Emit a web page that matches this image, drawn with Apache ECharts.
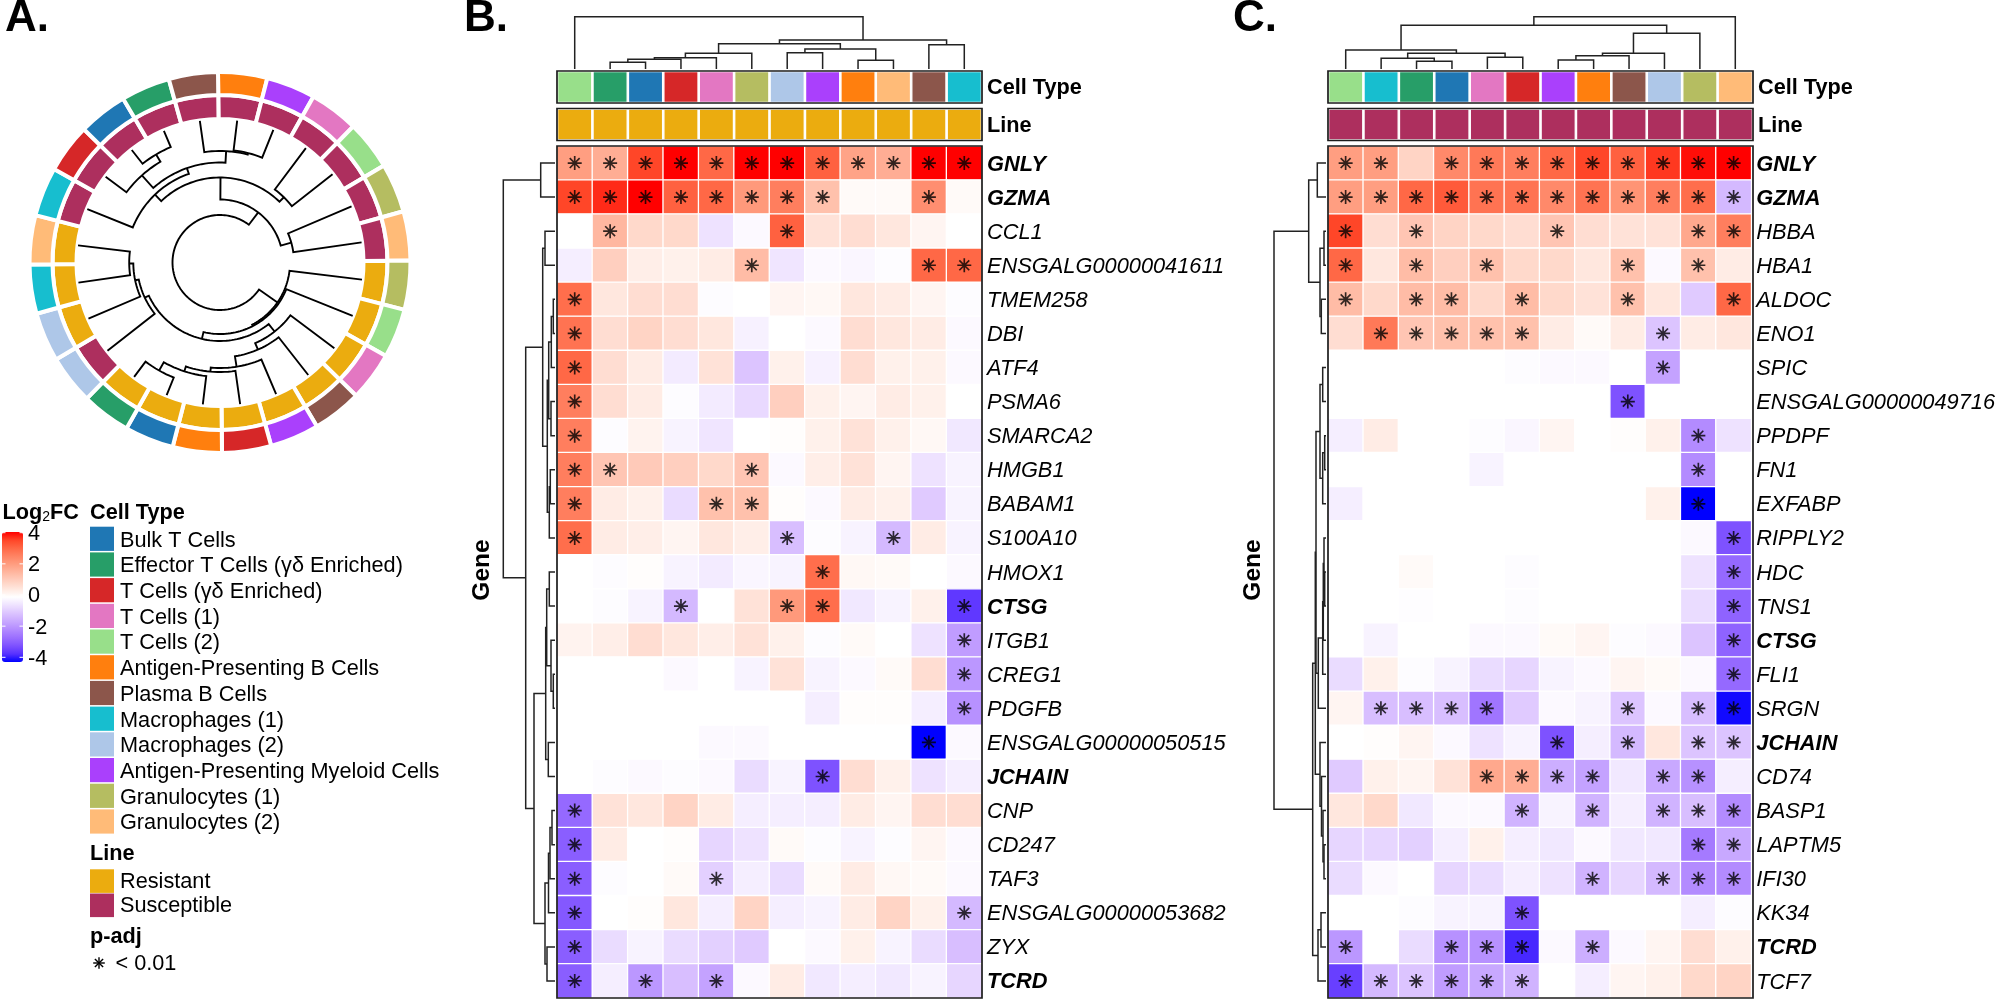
<!DOCTYPE html>
<html><head><meta charset="utf-8">
<style>html,body{margin:0;padding:0;background:#fff}#c{width:1998px;height:999px}</style>
<script src="https://cdn.jsdelivr.net/npm/echarts@6/dist/echarts.min.js"></script>
</head><body><div id="c"></div>
<script>
// ---------- categories ----------
const cellTypeNames = ['Bulk T Cells','Effector T Cells (γδ Enriched)','T Cells (γδ Enriched)','T Cells (1)','T Cells (2)','Antigen-Presenting B Cells','Plasma B Cells','Macrophages (1)','Macrophages (2)','Antigen-Presenting Myeloid Cells','Granulocytes (1)','Granulocytes (2)'];
const cellTypeColors = ['#1f77b4','#279e68','#d62728','#e377c2','#98df8a','#ff7f0e','#8c564b','#17becf','#aec7e8','#aa40fc','#b5bd61','#ffbb78'];
const lineNames = ['Resistant','Susceptible'];
const lineColors = ['#ebac0f','#ad2f5e'];
const colorbarTicks = [4,2,0,-2,-4];

// ring order, clockwise from 12 o'clock (index into cellTypeNames, line index)
const ringCell = [5,9,3,4,10,11, 10,4,3,6,9,2, 5,0,1,8,8,7, 11,7,2,0,1,6];
const ringLine = [1,1,1,1,1,1, 0,0,0,0,0,0, 0,0,0,1,0,0, 0,1,1,1,1,1];
// circular dendrogram merges: [a, b, radius]; number = leaf position, 'mN' = earlier merge
const ringTree = [[28,29,74],[24,25,113],[23,'m1',111.5],[21,22,125.5],[20,'m3',117],['m4','m2',100],[19,'m5',94],[26,27,91.3],['m6','m7',85],['m8','m0',63],
 [13,14,124],[12,'m10',114.5],[11,'m11',109.5],[10,'m12',105.5],[9,'m13',95],[8,'m14',88],[17,18,90.8],[16,'m16',86.7],[15,'m17',83],['m15','m18',78.5],[7,'m19',71.5],[6,'m20',70],['m21','m9',47.5]];

// ---------- panel B ----------
const genesB = ['GNLY','GZMA','CCL1','ENSGALG00000041611','TMEM258','DBI','ATF4','PSMA6','SMARCA2','HMGB1','BABAM1','S100A10','HMOX1','CTSG','ITGB1','CREG1','PDGFB','ENSGALG00000050515','JCHAIN','CNP','CD247','TAF3','ENSGALG00000053682','ZYX','TCRD'];
const boldGenes = ['GNLY','GZMA','CTSG','JCHAIN','TCRD'];
const colsB = [4,1,0,2,3,10,8,9,5,11,6,7];
const valuesB = [
[2,1.7,3.5,4,3,4,4,3.1,1.9,1.7,4,4],
[3.5,3.7,4,3.1,3,2.1,2.6,1.3,.1,.1,2.3,.1],
[0,1.5,.8,.8,-.5,-.1,3.1,.6,.7,.5,.2,0],
[-.3,1,.35,.3,.4,1.4,-.45,-.1,-.15,-.05,3,3],
[2.9,.5,.7,.7,-.05,0,.2,.15,.5,.4,.2,-.05],
[2.8,.7,.9,.7,.5,-.25,0,-.1,.7,.5,.4,-.1],
[3,.7,.4,-.35,.6,-1,.3,-.25,.7,.3,.3,-.1],
[2.6,.7,.4,-.05,-.35,-.65,1,.3,.2,.4,.3,0],
[2.6,-.05,.25,-.2,-.45,0,.05,.3,.6,.3,.15,-.4],
[2.6,1.2,1.1,1,.8,1.2,-.1,.35,.6,.2,-.5,-.2],
[2.6,.4,.3,-.6,1.3,1.3,.05,-.1,.4,.3,-.9,-.2],
[2.9,.4,.35,.2,.5,.35,-1.1,-.05,-.2,-1.2,.4,-.2],
[0,-.05,.05,-.2,-.35,-.15,-.2,2.9,.15,.1,0,-.1],
[0,-.05,-.2,-1.2,0,.6,2.1,2.9,-.4,-.2,.3,-3.4],
[.25,.35,.7,.5,.35,.6,.3,-.05,.1,0,-.5,-1.7],
[0,0,0,-.1,0,-.2,.6,-.2,-.1,.1,.7,-1.8],
[0,0,0,0,0,0,0,-.3,.05,.05,-.3,-1.9],
[0,0,0,0,-.1,-.1,0,0,0,0,-4,-.1],
[0,-.05,-.1,-.05,-.1,-.6,-.2,-3,.7,.3,-.5,-.3],
[-2.6,.6,.5,.9,.4,-.3,-.3,-.3,.4,.2,.7,.7],
[-2.8,.4,0,.05,-.7,-.5,.1,-.05,-.2,-.05,.2,-.1],
[-2.8,-.05,0,.1,-.8,-.3,-.6,.1,.4,.15,.1,-.1],
[-2.9,0,.05,.5,-.3,.9,-.3,-.2,.4,.9,.3,-1.2],
[-2.8,-.6,-.2,-.6,-.8,-.9,0,-.1,.3,-.2,-.6,-1.1],
[-2.8,-.3,-1.8,-1.1,-1.6,-.1,.4,-.4,-.3,-.4,-.2,-.7]];
const starsB = [[0,1,2,3,4,5,6,7,8,9,10,11],[0,1,2,3,4,5,6,7,10],[1,6],[5,10,11],[0],[0],[0],[0],[0],[0,1,5],[0,4,5],[0,6,9],[7],[3,6,7,11],[11],[11],[11],[10],[7],[0],[0],[0,4],[0,11],[0],[0,2,4]];
const colTreeB = [[1,2,6.7],['m0',3,9.7],['m1',4,11.3],['m2',5,15.7],[6,7,16.3],[8,9,8.7],['m4','m5',20],['m3','m6',25.3],[10,11,24.3],['m7','m8',29],[0,'m9',52.3]];
const rowTreeB = [[0,1,14.3],[2,3,10],[4,5,1.7],['m2',6,3.7],[7,8,4],['m3','m4',6.3],[9,10,4.7],['m6',11,5.7],['m5','m7',7.7],['m1','m8',12.3],
 [12,13,5.7],[15,16,1.7],[14,'m11',4],['m10','m12',8.3],[17,18,6.7],['m13','m14',9.3],[19,20,3],['m16',21,5],['m17',22,6.5],[23,24,8],['m18','m19',10],['m15','m20',21],['m9','m21',29.3],['m0','m22',51.7]];

// ---------- panel C ----------
const genesC = ['GNLY','GZMA','HBBA','HBA1','ALDOC','ENO1','SPIC','ENSGALG00000049716','PPDPF','FN1','EXFABP','RIPPLY2','HDC','TNS1','CTSG','FLI1','SRGN','JCHAIN','CD74','BASP1','LAPTM5','IFI30','KK34','TCRD','TCF7'];
const colsC = [4,7,1,0,3,2,9,5,6,8,10,11];
const valuesC = [
[2,2,.9,2.4,2.7,2.6,3,3.5,3.1,3.6,3.9,4],
[2,2,3,3.2,2.8,2.8,2.4,2.8,2.2,2.6,2.9,-1.2],
[3.5,.7,1.2,.9,.8,.7,1.2,.7,.6,.6,1.8,2.6],
[3,.5,1.4,1,1.3,.8,.8,.5,1.3,-.1,1.3,.4],
[1.4,.8,1.4,1.4,.8,1.4,.8,.6,1.3,.5,-.9,3],
[.7,2.7,1.2,1.3,1.3,1.3,.4,.1,.4,-1,.4,.5],
[0,0,0,0,0,-.05,-.1,-.1,0,-1.6,0,0],
[0,0,0,0,0,0,0,0,-3,0,0,0],
[-.3,.4,0,0,-.05,-.15,.2,0,.05,.3,-2,-.5],
[0,0,0,0,-.2,0,0,0,0,0,-2,0],
[-.3,0,0,0,0,0,0,0,0,.3,-4,0],
[0,0,0,0,0,0,0,0,0,0,-.1,-3],
[0,0,.1,0,0,-.05,0,0,0,0,-.5,-2.6],
[0,0,-.03,0,0,-.05,0,0,0,0,-.6,-2.7],
[0,-.2,0,0,-.1,-.1,.1,.2,-.05,-.1,-1,-2.7],
[-.6,.3,-.05,-.2,-.6,-.7,-.2,-.1,.2,.1,-.1,-2.6],
[.2,-1.1,-1.1,-1.1,-2.4,-.9,-.1,-.2,-1,-.1,-1.1,-3.9],
[0,.05,.2,-.1,-.5,-.2,-3,-.3,-1.2,.5,-1,-1],
[-.9,.3,.2,.6,1.8,1.7,-1.4,-1.6,-.4,-1.5,-1.9,-.3],
[.5,.8,-.4,-.1,-.1,-1.3,-.2,-1.3,-.3,-1.3,-1.1,-2],
[-.7,-.7,-.8,-.3,.3,-.3,-.4,-.1,-.4,-.4,-2.3,-1.5],
[-.6,-.1,0,-.7,-.6,-.3,-.5,-1.3,-.7,-1.2,-2,-2],
[0,0,-.05,-.2,-.2,-3,0,0,0,0,-.3,-.05],
[-1.8,0,-.6,-1.9,-1.9,-3.6,-.1,-1.4,-.1,.2,.7,.3],
[-3.3,-1.2,-1,-1.7,-1.5,-1.3,0,-.3,.2,.3,.8,.9]];
const starsC = [[0,1,3,4,5,6,7,8,9,10,11],[0,1,2,3,4,5,6,7,8,9,10,11],[0,2,6,10,11],[0,2,4,8,10],[0,2,3,5,8,11],[1,2,3,4,5,9],[9],[8],[10],[10],[10],[11],[11],[11],[11],[11],[1,2,3,4,8,10,11],[6,8,10,11],[4,5,6,7,9,10],[5,7,9,10,11],[10,11],[7,9,10,11],[5],[0,3,4,5,7],[0,1,2,3,4,5]];
const colTreeC = [[2,3,7.7],[1,'m0',10.7],[4,5,11.7],['m1','m2',15.7],[0,'m3',19],[6,7,9],['m5',8,13.3],['m6',9,15.7],['m7',10,35.7],['m4','m8',43.7],['m9',11,52.3]];
const rowTreeC = [[0,1,8.7],[2,3,2],[4,5,4.7],['m1','m2',6],['m0','m3',17.3],[6,7,3.3],[8,9,1.3],['m6',10,3.3],['m5','m7',6],
 [12,13,1.3],[11,'m9',2],['m10',14,2.7],['m11',15,3.3],['m12',16,7.7],['m8','m13',10],[20,21,2],[19,'m15',3],[18,'m16',4.5],[17,'m17',6],['m14','m18',10.7],[22,23,5],['m20',24,8],['m19','m21',13.3],['m4','m22',52]];

// ---------- helpers ----------
const FONT = 'Liberation Sans';
function links(tree, leafPos, leafH){
  const nodes = [];
  const pos = c => typeof c === 'string' ? nodes[+c.slice(1)].p : leafPos(c);
  const hgt = c => typeof c === 'string' ? nodes[+c.slice(1)].h : leafH;
  return tree.map(([a,b,h]) => {
    const row = [pos(a), pos(b), h, hgt(a), hgt(b)];
    nodes.push({p:(row[0]+row[1])/2, h});
    return row;
  });
}
// CIELAB blue-white-red ramp
function toLab(c){
  const f = v => { v/=255; return v>0.04045?Math.pow((v+0.055)/1.055,2.4):v/12.92; };
  const [r,g,b] = c.map(f);
  const X=(0.4124564*r+0.3575761*g+0.1804375*b)/0.95047, Y=0.2126729*r+0.7151522*g+0.072175*b, Z=(0.0193339*r+0.119192*g+0.9503041*b)/1.08883;
  const t = v => v>0.008856?Math.cbrt(v):7.787*v+16/116;
  return [116*t(Y)-16, 500*(t(X)-t(Y)), 200*(t(Y)-t(Z))];
}
function fromLab([L,a,b]){
  const fy=(L+16)/116, fx=a/500+fy, fz=fy-b/200;
  const t = v => v*v*v>0.008856?v*v*v:(v-16/116)/7.787;
  const X=t(fx)*0.95047, Y=t(fy), Z=t(fz)*1.08883;
  const r=3.2404542*X-1.5371385*Y-0.4985314*Z, g=-0.969266*X+1.8760108*Y+0.041556*Z, bb=0.0556434*X-0.2040259*Y+1.0572252*Z;
  const f = v => { v=Math.max(0,Math.min(1,v)); return Math.round(255*(v>0.0031308?1.055*Math.pow(v,1/2.4)-0.055:12.92*v)); };
  return 'rgb('+f(r)+','+f(g)+','+f(bb)+')';
}
const ramp = [];
(function(){
  const B=toLab([0,0,255]),W=toLab([255,255,255]),R=toLab([255,0,0]);
  const mix=(p,q,t)=>p.map((v,i)=>v+(q[i]-v)*t);
  for(let i=0;i<=16;i++){ const v=i/8-1; ramp.push(fromLab(v<0?mix(W,B,-v):mix(W,R,v))); }
})();
const ARMS = (function(){
  let d='';
  const w=12,L=100;
  [0,45,90,135].forEach(deg=>{
    const c=Math.cos(deg*Math.PI/180),s=Math.sin(deg*Math.PI/180);
    const P=(u,v)=>(u*c-v*s+100).toFixed(1)+' '+(u*s+v*c+100).toFixed(1);
    d+='M'+P(-L,-w)+'L'+P(L,-w)+'L'+P(L,w)+'L'+P(-L,w)+'Z';
  });
  d+='M62 100L100 62L138 100L100 138Z';
  return 'path://'+d;
})();

const series=[], grid=[], xAxis=[], yAxis=[], graphic=[], heatIdx=[];
const LINE='#222';
function addGrid(g,x,y){ grid.push(g); x.gridIndex=grid.length-1; y.gridIndex=grid.length-1; xAxis.push(x); yAxis.push(y); return grid.length-1; }
function hiddenVal(min,max,inv){ return {type:'value',min,max,inverse:!!inv,show:false,splitLine:{show:false}}; }
function txt(s,x,y,o){ o=o||{}; graphic.push({type:'text',x,y,rotation:o.rot||0,z:50,silent:true,style:Object.assign({text:s,fontFamily:FONT,fontSize:o.size||21.7,fontWeight:o.w||'normal',fill:'#000',align:o.align||'left',verticalAlign:'middle'},o.extra||{})}); }
function rect(x,y,w,h,fill,stroke,lw,z){ graphic.push({type:'rect',silent:true,z:z||40,shape:{x,y,width:w,height:h},style:{fill:fill||'none',stroke:stroke||'none',lineWidth:lw||0}}); }
function seg(x1,y1,x2,y2,color,lw,z){ graphic.push({type:'line',silent:true,z:z||60,shape:{x1,y1,x2,y2},style:{stroke:color,lineWidth:lw}}); }

function dendro(gi,rows,horizontal){
  series.push({type:'custom',xAxisIndex:gi,yAxisIndex:gi,coordinateSystem:'cartesian2d',silent:true,clip:false,animation:false,
    encode:horizontal?{x:[2,3,4],y:[0,1]}:{x:[0,1],y:[2,3,4]},data:rows,
    renderItem:(p,api)=>{
      const a=api.value(0),b=api.value(1),h=api.value(2),ha=api.value(3),hb=api.value(4);
      const C=(q,v)=>horizontal?api.coord([v,q]):api.coord([q,v]);
      return {type:'polyline',shape:{points:[C(a,ha),C(a,h),C(b,h),C(b,hb)]},style:{stroke:LINE,lineWidth:1.5,fill:null}};
    }});
}
function strip(top,colors){
  const gi=addGrid({left:LEFT,top,width:W,height:32},{type:'category',data:colors.map((_, i)=>i),show:false},hiddenVal(0,1));
  series.push({type:'bar',xAxisIndex:gi,yAxisIndex:gi,barWidth:'100%',silent:true,animation:false,
    itemStyle:{borderColor:'#fff',borderWidth:1.3},
    data:colors.map(c=>({value:1,itemStyle:{color:c}}))});
  rect(LEFT,top,W,32,null,'#1c1c1c',1.7);
}
let LEFT=557, W=425;
function panel(left,genes,cols,vals,stars,colTree,rowTree,lineIdx,geneX){
  LEFT=left;
  const top=146,H=852;
  const gt=addGrid({left,top:0,width:W,height:69},hiddenVal(0,12),hiddenVal(0,69));
  dendro(gt,links(colTree,i=>i+.5,0),false);
  strip(71,cols.map(i=>cellTypeColors[i]));
  strip(108.5,cols.map(()=>lineColors[lineIdx]));
  txt('Cell Type',left+W+5,88.5,{w:'bold'});
  txt('Line',left+W+5,126,{w:'bold'});
  const gr=addGrid({left:left-2-60,top,width:60,height:H},hiddenVal(0,60,true),hiddenVal(0,25,true));
  dendro(gr,links(rowTree,i=>i+.5,0),true);
  const gh=addGrid({left,top,width:W,height:H},
    {type:'category',data:cols.map(i=>cellTypeNames[i]),show:false},
    {type:'category',data:genes,inverse:true,position:'right',axisLine:{show:false},axisTick:{show:false},splitLine:{show:false},
     axisLabel:{show:true,interval:0,margin:5,padding:[3,0,0,0],fontFamily:FONT,fontSize:21.8,color:'#000',
       formatter:v=>boldGenes.includes(v)?'{b|'+v+'}':'{i|'+v+'}',
       rich:{b:{fontFamily:FONT,fontSize:21.8,fontWeight:'bold',fontStyle:'italic',color:'#000'},i:{fontFamily:FONT,fontSize:21.8,fontStyle:'italic',color:'#000'}}}});
  const cells=[]; vals.forEach((r,y)=>r.forEach((v,x)=>cells.push([x,y,v])));
  heatIdx.push(series.length);
  series.push({type:'heatmap',xAxisIndex:gh,yAxisIndex:gh,data:cells,silent:true,animation:false,progressive:0,emphasis:{disabled:true},
    itemStyle:{borderColor:'#fff',borderWidth:1.3}});
  const pts=[]; stars.forEach((r,y)=>r.forEach(x=>pts.push([x,y])));
  series.push({type:'scatter',xAxisIndex:gh,yAxisIndex:gh,data:pts,symbol:ARMS,symbolSize:14,silent:true,animation:false,z:5,itemStyle:{color:'#000'}});
  rect(left,top,W,H,null,'#1c1c1c',1.7);
  txt('Gene',geneX,570,{w:'bold',size:24.5,align:'center',rot:Math.PI/2});
}
panel(557,genesB,colsB,valuesB,starsB,colTreeB,rowTreeB,0,482.5);
panel(1328,genesC,colsC,valuesC,starsC,colTreeC,rowTreeC,1,1253);

// ---------- panel A: rings and circular dendrogram ----------
const RING_C=[220,262.5], RING_R=190.5;
const polar=[{center:RING_C,radius:RING_R},{center:RING_C,radius:RING_R}];
const angleAxis=[
 {polarIndex:0,type:'category',data:ringCell.map((_,i)=>i),startAngle:90.6,clockwise:true,show:false},
 {polarIndex:1,type:'value',min:0,max:360,startAngle:90.6,clockwise:true,show:false}];
const radiusAxis=[{polarIndex:0,type:'value',min:0,max:RING_R,show:false},{polarIndex:1,type:'value',min:0,max:RING_R,show:false}];
const ringStyle={borderColor:'#fff',borderWidth:4};
series.push({type:'bar',coordinateSystem:'polar',polarIndex:0,stack:'ring',barWidth:'100%',silent:true,animation:false,itemStyle:{color:'none',opacity:0},data:ringCell.map(()=>143.5)});
series.push({type:'bar',coordinateSystem:'polar',polarIndex:0,stack:'ring',barWidth:'100%',silent:true,animation:false,itemStyle:ringStyle,data:ringLine.map(l=>({value:24,itemStyle:{color:lineColors[l]}}))});
series.push({type:'bar',coordinateSystem:'polar',polarIndex:0,stack:'ring',barWidth:'100%',silent:true,animation:false,itemStyle:ringStyle,data:ringCell.map(c=>({value:23,itemStyle:{color:cellTypeColors[c]}}))});
series.push({type:'custom',coordinateSystem:'polar',polarIndex:1,silent:true,animation:false,clip:false,z:4,
  encode:{radius:[2,3,4],angle:[0,1]},data:links(ringTree,i=>i*15+7.5,143),
  renderItem:(p,api)=>{
    const a=api.value(0),b=api.value(1),r=api.value(2),ra=api.value(3),rb=api.value(4);
    const C=(rr,an)=>api.coord([rr,an%360]);
    const pts=[C(ra,a)];
    const n=Math.max(2,Math.ceil(Math.abs(b-a)/2));
    for(let i=0;i<=n;i++) pts.push(C(r,a+(b-a)*i/n));
    pts.push(C(rb,b));
    return {type:'polyline',shape:{points:pts},style:{stroke:'#000',lineWidth:1.9,fill:null}};
  }});

// ---------- panel letters and legends ----------
txt('A.',5,19,{w:'bold',size:44});
txt('B.',464,19,{w:'bold',size:44});
txt('C.',1233,19,{w:'bold',size:44});
graphic.push({type:'text',x:2.5,y:513,z:50,silent:true,style:{fontFamily:FONT,verticalAlign:'middle',fill:'#000',
  text:'{a|Log}{s|2}{a|FC}',rich:{a:{fontFamily:FONT,fontSize:21.7,fontWeight:'bold',fill:'#000'},s:{fontFamily:FONT,fontSize:14,verticalAlign:'bottom',fill:'#000'}}}});
colorbarTicks.forEach((t,i)=>{
  const y=532.7+i*31.15;
  txt(String(t),28,y+1.5,{size:21.7});
  seg(2,y,5.5,y,'#fff',1,60); seg(19.5,y,23,y,'#fff',1,60);
});
txt('Cell Type',90,513,{w:'bold'});
cellTypeNames.forEach((n,i)=>{
  const y=526.7+i*25.7;
  rect(90,y,24,24.2,cellTypeColors[i]);
  txt(n,120,y+14,{size:21.7});
});
txt('Line',90,854,{w:'bold'});
lineNames.forEach((n,i)=>{
  const y=869.3+i*24.2;
  rect(90,y,24,23.6,lineColors[i]);
  txt(n,120,y+13,{size:21.7});
});
txt('p-adj',90,937,{w:'bold'});
[0,45,90,135].forEach(d=>{
  const c=Math.cos(d*Math.PI/180)*5.8,s=Math.sin(d*Math.PI/180)*5.8;
  seg(99-c,963-s,99+c,963+s,'#000',1.4,60);
});
txt('< 0.01',115.5,964,{size:21.7});

const chart=echarts.init(document.getElementById('c'),null,{renderer:'canvas'});
chart.setOption({
  animation:false,backgroundColor:'#fff',textStyle:{fontFamily:FONT},
  grid,xAxis,yAxis,polar,angleAxis,radiusAxis,
  visualMap:[{type:'continuous',seriesIndex:heatIdx,dimension:2,min:-4,max:4,left:2,top:532,itemWidth:21,itemHeight:130,padding:0,calculable:false,hoverLink:false,text:null,inRange:{color:ramp},outOfRange:{color:'#fff'}}],
  series,graphic
});
</script></body></html>
